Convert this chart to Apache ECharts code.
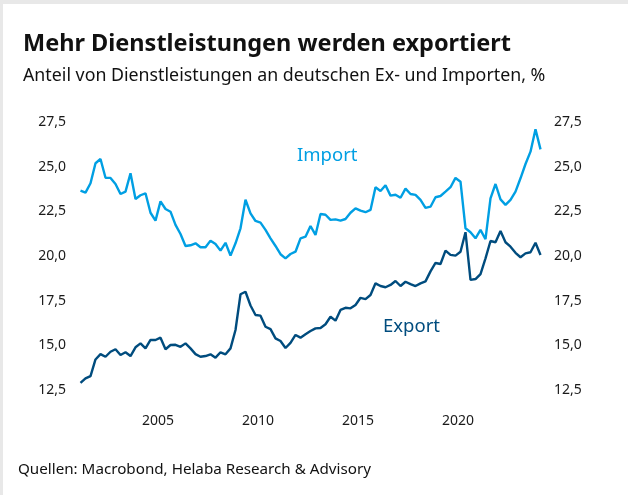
<!DOCTYPE html>
<html>
<head>
<meta charset="utf-8">
<script src="https://cdn.jsdelivr.net/npm/echarts@6/dist/echarts.min.js"></script>
<style>
  html, body { margin: 0; padding: 0; background: #fff; }
  #chart { width: 628px; height: 495px; }
</style>
</head>
<body>
<div id="chart"></div>
<script>
// Quartalsdaten 2001Q1 - 2024Q1
const startYear = 2001;
const yearTicks = [2005, 2010, 2015, 2020];
const valueTicks = [12.5, 15, 17.5, 20, 22.5, 25, 27.5];

const importShare = [
  23.66, 23.55, 24.07, 25.19, 25.43, 24.38, 24.37, 24.03, 23.47, 23.60,
  24.63, 23.19, 23.40, 23.51, 22.42, 21.98, 23.06, 22.63, 22.48, 21.74,
  21.23, 20.56, 20.60, 20.71, 20.49, 20.49, 20.86, 20.67, 20.30, 20.74,
  20.02, 20.71, 21.55, 23.15, 22.39, 21.96, 21.87, 21.46, 20.99, 20.56,
  20.10, 19.87, 20.11, 20.24, 20.99, 21.08, 21.68, 21.18, 22.35, 22.31,
  22.02, 22.05, 21.98, 22.07, 22.42, 22.67, 22.54, 22.45, 22.58, 23.85,
  23.64, 23.96, 23.38, 23.43, 23.26, 23.77, 23.47, 23.42, 23.14, 22.69,
  22.76, 23.29, 23.36, 23.60, 23.85, 24.37, 24.16, 21.55, 21.33, 20.99,
  21.46, 20.94, 23.23, 24.03, 23.17, 22.86, 23.14, 23.60, 24.35, 25.15,
  25.84, 27.09, 25.97
];

const exportShare = [
  12.90, 13.15, 13.28, 14.21, 14.51, 14.36, 14.64, 14.78, 14.46, 14.61,
  14.40, 14.89, 15.11, 14.83, 15.30, 15.30, 15.43, 14.78, 15.02, 15.03,
  14.92, 15.11, 14.83, 14.51, 14.36, 14.40, 14.50, 14.31, 14.61, 14.50,
  14.83, 15.86, 17.86, 18.00, 17.23, 16.70, 16.66, 16.04, 15.91, 15.39,
  15.24, 14.85, 15.14, 15.58, 15.43, 15.62, 15.80, 15.95, 15.97, 16.18,
  16.60, 16.38, 16.98, 17.10, 17.07, 17.26, 17.66, 17.59, 17.82, 18.47,
  18.32, 18.25, 18.38, 18.60, 18.32, 18.56, 18.43, 18.32, 18.47, 18.58,
  19.14, 19.61, 19.55, 20.30, 20.06, 20.02, 20.24, 21.33, 18.66, 18.71,
  18.99, 19.87, 20.84, 20.77, 21.40, 20.77, 20.52, 20.18, 19.93, 20.15,
  20.21, 20.74, 20.06
];

// Zeitpunkt = Quartalsmitte
const quarterTime = (i) => startYear + i * 0.25 + 0.125;
const toPairs = (arr) => arr.map((v, i) => [quarterTime(i), v]);

const FONT = "'Noto Sans', 'Open Sans', sans-serif";
const IMPORT_COLOR = "#009fe3";
const EXPORT_COLOR = "#004c7e";

const fmt = (v) => v.toFixed(1).replace(".", ",");

const yAxisBase = {
  type: "value",
  min: 12.5,
  max: 27.5,
  interval: 2.5,
  splitLine: { show: false },
  axisLine: { show: false },
  axisTick: { show: false },
  axisLabel: {
    customValues: valueTicks,
    formatter: fmt,
    color: "#1a1a1a",
    fontFamily: FONT,
    fontSize: 14,
    margin: 6,
  },
};

const chart = echarts.init(document.getElementById("chart"));
chart.setOption({
  animation: false,
  backgroundColor: "#fff",
  title: {
    text: "Mehr Dienstleistungen werden exportiert",
    subtext: "Anteil von Dienstleistungen an deutschen Ex- und Importen, %",
    left: 18,
    top: 27,
    itemGap: 11,
    textStyle: {
      fontFamily: FONT,
      fontWeight: "bold",
      fontSize: 23.5,
      color: "#111",
    },
    subtextStyle: {
      fontFamily: FONT,
      fontSize: 17.8,
      color: "#111",
    },
  },
  grid: {
    left: 72,
    right: 80,
    top: 122,
    bottom: 105,
  },
  xAxis: {
    type: "value",
    min: 2000.7,
    max: 2024.5,
    splitLine: { show: false },
    axisLine: { show: false },
    axisTick: { show: false },
    axisLabel: {
      customValues: yearTicks,
      formatter: (v) => String(v),
      color: "#1a1a1a",
      fontFamily: FONT,
      fontSize: 14,
      margin: 24,
    },
  },
  yAxis: [
    Object.assign({}, yAxisBase, { position: "left" }),
    Object.assign({}, yAxisBase, { position: "right" }),
  ],
  series: [
    {
      name: "Import",
      type: "line",
      data: toPairs(importShare),
      showSymbol: false,
      lineStyle: { color: IMPORT_COLOR, width: 2.4 },
      itemStyle: { color: IMPORT_COLOR },
    },
    {
      name: "Export",
      type: "line",
      data: toPairs(exportShare),
      showSymbol: false,
      lineStyle: { color: EXPORT_COLOR, width: 2.4 },
      itemStyle: { color: EXPORT_COLOR },
    },
  ],
  graphic: [
    // hellgrauer Rahmen oben und links
    { type: "rect", left: 0, top: 0, shape: { width: 628, height: 4 }, style: { fill: "#e8e8e8" }, silent: true },
    { type: "rect", left: 0, top: 0, shape: { width: 3, height: 495 }, style: { fill: "#e8e8e8" }, silent: true },
    {
      type: "text",
      left: 297,
      top: 146,
      style: { text: "Import", fill: IMPORT_COLOR, font: "18.5px " + FONT },
    },
    {
      type: "text",
      left: 383,
      top: 317,
      style: { text: "Export", fill: EXPORT_COLOR, font: "18.5px " + FONT },
    },
    {
      type: "text",
      left: 18,
      top: 462,
      style: { text: "Quellen: Macrobond, Helaba Research & Advisory", fill: "#111", font: "15.2px " + FONT },
    },
  ],
});
</script>
</body>
</html>
